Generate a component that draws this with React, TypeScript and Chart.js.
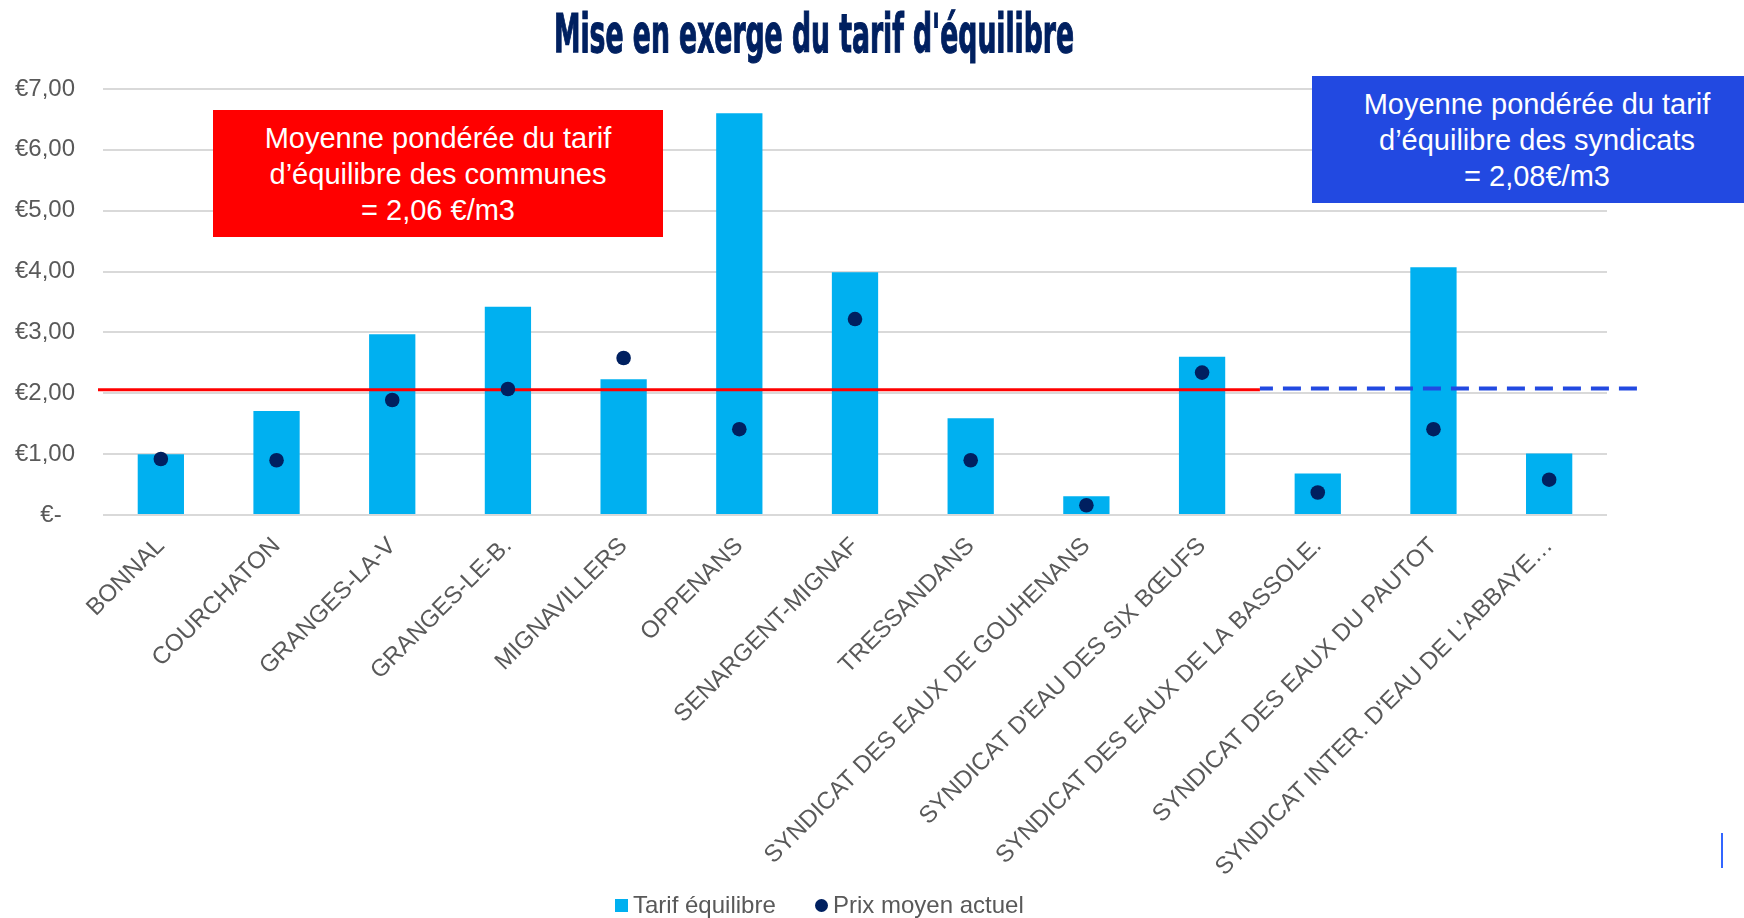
import React, { useEffect, useRef } from "react";
import { Chart, registerables } from "chart.js";

Chart.register(...registerables);

// ---- data ----
const categories = [
  "BONNAL",
  "COURCHATON",
  "GRANGES-LA-V",
  "GRANGES-LE-B.",
  "MIGNAVILLERS",
  "OPPENANS",
  "SENARGENT-MIGNAF",
  "TRESSANDANS",
  "SYNDICAT DES EAUX DE GOUHENANS",
  "SYNDICAT D'EAU DES SIX BŒUFS",
  "SYNDICAT DES EAUX DE LA BASSOLE.",
  "SYNDICAT DES EAUX DU PAUTOT",
  "SYNDICAT INTER. D'EAU DE L'ABBAYE…",
];
const tarifEquilibre = [1.0, 1.71, 2.97, 3.42, 2.23, 6.6, 3.99, 1.59, 0.31, 2.6, 0.68, 4.07, 1.01];
const prixMoyenActuel = [0.92, 0.9, 1.89, 2.07, 2.58, 1.41, 3.22, 0.9, 0.16, 2.34, 0.37, 1.41, 0.58];
const yTickValues = [0, 1, 2, 3, 4, 5, 6, 7];
const yTickLabels = ["€-  ", "€1,00", "€2,00", "€3,00", "€4,00", "€5,00", "€6,00", "€7,00"];
const moyenneCommunes = 2.06;
const moyenneSyndicats = 2.08;
const splitIndex = 9.5; // where the communes line ends and the syndicats line begins

const seriesLabels = ["Tarif équilibre", "Prix moyen actuel"];
const titleText = "Mise en exerge du tarif d'équilibre";
const communesBoxLines = ["Moyenne pondérée du tarif", "d’équilibre des communes", "= 2,06 €/m3"];
const syndicatsBoxLines = ["Moyenne pondérée du tarif", "d’équilibre des syndicats", "= 2,08€/m3"];

// ---- styles ----
const W = 1744;
const H = 918;
const BAR_COLOR = "#00B0F0";
const DOT_COLOR = "#002060";
const GRAY = "#595959";
const FONT = "'Liberation Sans', Arial, sans-serif";

const averageLinesPlugin = {
  id: "averageLines",
  afterDatasetDraw(chart: any, args: any) {
    if (args.index !== 0) return;
    const { ctx, chartArea } = chart;
    const x = chart.scales.x;
    const y = chart.scales.y;
    const xSplit = x.getPixelForValue(splitIndex);
    ctx.save();
    // communes (solid red)
    const yc = y.getPixelForValue(moyenneCommunes);
    ctx.strokeStyle = "#FF0000";
    ctx.lineWidth = 3;
    ctx.setLineDash([]);
    ctx.beginPath();
    ctx.moveTo(chartArea.left - 5, yc);
    ctx.lineTo(xSplit, yc);
    ctx.stroke();
    // syndicats (dashed blue)
    const ys = y.getPixelForValue(moyenneSyndicats);
    ctx.strokeStyle = "#2249E1";
    ctx.lineWidth = 4;
    ctx.setLineDash([18, 10]);
    ctx.lineDashOffset = 5;
    ctx.beginPath();
    ctx.moveTo(xSplit, ys);
    ctx.lineTo(chartArea.right + 30, ys);
    ctx.stroke();
    ctx.restore();
  },
};

export default function App() {
  const canvasRef = useRef<HTMLCanvasElement | null>(null);
  const titleRef = useRef<HTMLDivElement | null>(null);

  useEffect(() => {
    document.body.style.margin = "0";
    const t = titleRef.current;
    if (t) {
      const w = t.offsetWidth;
      const k = 520 / w;
      t.style.transform = `translateX(-50%) scaleX(${k})`;
    }
    const canvas = canvasRef.current;
    if (!canvas) return;
    Chart.defaults.font.family = FONT;
    const chart = new Chart(canvas, {
      type: "bar",
      data: {
        labels: categories,
        datasets: [
          {
            type: "bar",
            label: seriesLabels[0],
            data: tarifEquilibre,
            backgroundColor: BAR_COLOR,
            barPercentage: 0.4,
            categoryPercentage: 1,
            order: 2,
          } as any,
          {
            type: "line",
            label: seriesLabels[1],
            data: prixMoyenActuel,
            showLine: false,
            pointRadius: 7.3,
            pointHoverRadius: 7.3,
            pointBorderWidth: 0,
            pointBackgroundColor: DOT_COLOR,
            borderColor: DOT_COLOR,
            backgroundColor: DOT_COLOR,
            order: 1,
          } as any,
        ],
      },
      options: {
        responsive: false,
        animation: false,
        events: [],
        layout: { padding: { top: 89, right: 137, bottom: 0, left: 0 } },
        plugins: {
          legend: { display: false },
          title: { display: false },
          tooltip: { enabled: false },
        },
        scales: {
          x: {
            grid: { display: false, drawTicks: false },
            border: { display: false },
            ticks: {
              autoSkip: false,
              minRotation: 45,
              maxRotation: 45,
              color: GRAY,
              padding: 17,
              font: { family: FONT, size: 24 },
            },
            afterFit: (scale: any) => {
              scale.height = 403;
            },
          },
          y: {
            min: 0,
            max: 7,
            afterBuildTicks: (scale: any) => {
              scale.ticks = yTickValues.map((v) => ({ value: v }));
            },
            grid: { color: "#D9D9D9", lineWidth: 2, drawTicks: false },
            border: { display: false },
            ticks: {
              color: GRAY,
              padding: 28,
              font: { family: FONT, size: 24 },
              callback: (value: any) => yTickLabels[yTickValues.indexOf(Number(value))],
            },
            afterFit: (scale: any) => {
              scale.width = 103;
            },
          },
        },
      },
      plugins: [averageLinesPlugin],
    });
    return () => chart.destroy();
  }, []);

  const boxStyle: React.CSSProperties = {
    position: "absolute",
    width: 450,
    height: 127,
    boxSizing: "border-box",
    paddingTop: 10,
    color: "#FFFFFF",
    fontFamily: FONT,
    fontSize: 29,
    lineHeight: "36px",
    textAlign: "center",
    whiteSpace: "nowrap",
  };

  return (
    <div style={{ position: "relative", width: W, height: H, overflow: "hidden", background: "#FFFFFF" }}>
      <canvas ref={canvasRef} width={W} height={H} style={{ position: "absolute", left: 0, top: 0, width: W, height: H }} />
      <div
        ref={titleRef}
        style={{
          position: "absolute",
          left: 814,
          top: 8,
          fontFamily: "'Liberation Sans Narrow', 'DejaVu Sans Condensed', sans-serif",
          fontWeight: 700,
          fontSize: 53,
          lineHeight: "52px",
          color: DOT_COLOR,
          whiteSpace: "nowrap",
          WebkitTextStroke: `1.2px ${DOT_COLOR}`,
          transform: "translateX(-50%)",
        }}
      >
        {titleText}
      </div>
      <div style={{ ...boxStyle, left: 213, top: 110, background: "#FF0000" }}>
        {communesBoxLines.map((l, i) => (
          <div key={i}>{l}</div>
        ))}
      </div>
      <div style={{ ...boxStyle, left: 1312, top: 76, background: "#2249E1" }}>
        {syndicatsBoxLines.map((l, i) => (
          <div key={i}>{l}</div>
        ))}
      </div>
      <div style={{ position: "absolute", left: 615, top: 899, width: 13, height: 13, background: BAR_COLOR }} />
      <div style={{ position: "absolute", left: 633, top: 893, fontFamily: FONT, fontSize: 24, lineHeight: "24px", color: GRAY, whiteSpace: "nowrap" }}>
        {seriesLabels[0]}
      </div>
      <div style={{ position: "absolute", left: 815, top: 899, width: 13, height: 13, borderRadius: "50%", background: DOT_COLOR }} />
      <div style={{ position: "absolute", left: 833, top: 893, fontFamily: FONT, fontSize: 24, lineHeight: "24px", color: GRAY, whiteSpace: "nowrap" }}>
        {seriesLabels[1]}
      </div>
      <div style={{ position: "absolute", left: 1721, top: 833, width: 2, height: 35, background: "#3366FF" }} />
    </div>
  );
}
